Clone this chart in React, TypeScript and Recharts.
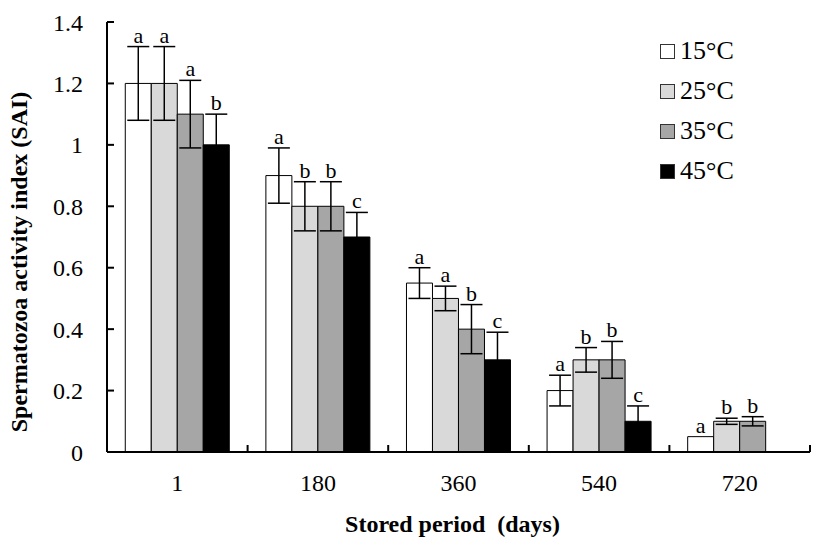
import { BarChart, Bar, XAxis, YAxis, ErrorBar, LabelList, Legend, Label } from 'recharts';

const periods = ['1', '180', '360', '540', '720'];
const temps = ['15°C', '25°C', '35°C', '45°C'];
const sai15 = [1.2, 0.9, 0.55, 0.2, 0.05];
const sai25 = [1.2, 0.8, 0.5, 0.3, 0.1];
const sai35 = [1.1, 0.8, 0.4, 0.3, 0.1];
const sai45 = [1.0, 0.7, 0.3, 0.1, null];
const err15 = [0.12, 0.09, 0.05, 0.05, 0];
const err25 = [0.12, 0.08, 0.04, 0.04, 0.01];
const err35 = [0.11, 0.08, 0.08, 0.06, 0.015];
const err45 = [0.1, 0.08, 0.09, 0.05, null];
const letters15 = ['a', 'a', 'a', 'a', 'a'];
const letters25 = ['a', 'b', 'a', 'b', 'b'];
const letters35 = ['a', 'b', 'b', 'b', 'b'];
const letters45 = ['b', 'c', 'c', 'c', ''];
const yTicks = [0, 0.2, 0.4, 0.6, 0.8, 1, 1.2, 1.4];

const fills = ['#ffffff', '#d9d9d9', '#a6a6a6', '#000000'];
const FONT = '"Liberation Serif", "Times New Roman", serif';

const series = [
    { vals: sai15, errs: err15, letters: letters15 },
    { vals: sai25, errs: err25, letters: letters25 },
    { vals: sai35, errs: err35, letters: letters35 },
    { vals: sai45, errs: err45, letters: letters45 },
];

const data = periods.map((p, i) => {
    const row: any = { period: p };
    series.forEach((s, k) => {
        row['v' + k] = s.vals[i];
        row['e' + k] = s.errs[i];
        row['l' + k] = s.letters[i];
    });
    return row;
});

const makeLetter = (k: number) => (props: any) => {
    const { x, y, width, height, index, value } = props;
    const v = series[k].vals[index];
    if (v == null || !value) return null;
    const pxPerUnit = Number(height) / v;
    const errPx = (series[k].errs[index] || 0) * pxPerUnit;
    return (
        <text x={Number(x) + Number(width) / 2} y={Number(y) - errPx - 4} textAnchor="middle"
            fontFamily={FONT} fontSize={22} fill="#000">
            {value}
        </text>
    );
};

const CatTick = (props: any) => {
    const { x, y, payload, width, visibleTicksCount } = props;
    const band = (width ?? 703) / (visibleTicksCount ?? 5);
    return (
        <g>
            <line x1={x + band / 2} x2={x + band / 2} y1={y} y2={y - 7} stroke="#000" strokeWidth={2} />
            <text x={x} y={y + 39} textAnchor="middle" fontFamily={FONT} fontSize={24} fill="#000">
                {payload.value}
            </text>
        </g>
    );
};

const renderLegend = () => (
    <div style={{ fontFamily: FONT, fontSize: 26, color: '#000' }}>
        {temps.map((t, k) => (
            <div key={t} style={{ display: 'flex', alignItems: 'center', height: 40 }}>
                <span style={{ width: 13, height: 13, background: fills[k], border: '1.5px solid #333', marginRight: 5, display: 'inline-block' }} />
                <span>{t}</span>
            </div>
        ))}
    </div>
);

export default function App() {
    return (
        <div style={{ position: 'absolute', left: 0, top: 0, width: 827, height: 548, background: '#fff' }}>
            <BarChart width={827} height={548} data={data} margin={{ top: 22, right: 17, left: 0, bottom: 36 }}
                barCategoryGap="13%" barGap={0}>
                <XAxis dataKey="period" height={60} tickLine={false} tickSize={0} tickMargin={0}
                    axisLine={{ stroke: '#000', strokeWidth: 2 }} tick={<CatTick />} interval={0}>
                    <Label content={(p: any) => {
                        const vb = p.viewBox;
                        return (
                            <text x={vb.x + vb.width / 2 - 6} y={vb.y + 80} textAnchor="middle" fontFamily={FONT}
                                fontSize={24} fontWeight="bold" fill="#000" style={{ whiteSpace: 'pre' }}>
                                {'Stored period  (days)'}
                            </text>
                        );
                    }} />
                </XAxis>
                <YAxis width={107} domain={[0, 1.4]} ticks={yTicks} interval={0} tickSize={-7} tickMargin={31}
                    axisLine={{ stroke: '#000', strokeWidth: 2 }} tickLine={{ stroke: '#000', strokeWidth: 2 }}
                    tick={{ fontFamily: FONT, fontSize: 24, fill: '#000' }}>
                    <Label content={(p: any) => {
                        const vb = p.viewBox;
                        const cx = 19;
                        const cy = vb.y + vb.height / 2 + 25;
                        return (
                            <text x={cx} y={cy} textAnchor="middle" dominantBaseline="central"
                                transform={`rotate(-90, ${cx}, ${cy})`} fontFamily={FONT} fontSize={24}
                                fontWeight="bold" fill="#000">
                                Spermatozoa activity index (SAI)
                            </text>
                        );
                    }} />
                </YAxis>
                <Legend content={renderLegend} layout="vertical" verticalAlign="middle" align="center"
                    wrapperStyle={{ top: 31, left: 660, width: 120 }} />
                {series.map((s, k) => (
                    <Bar key={k} dataKey={'v' + k} name={temps[k]} fill={fills[k]} stroke="#000" strokeWidth={1}
                        isAnimationActive={false}>
                        <ErrorBar dataKey={'e' + k} width={11} stroke="#000" strokeWidth={1.5} direction="y" />
                        <LabelList dataKey={'l' + k} content={makeLetter(k)} />
                    </Bar>
                ))}
            </BarChart>
        </div>
    );
}
